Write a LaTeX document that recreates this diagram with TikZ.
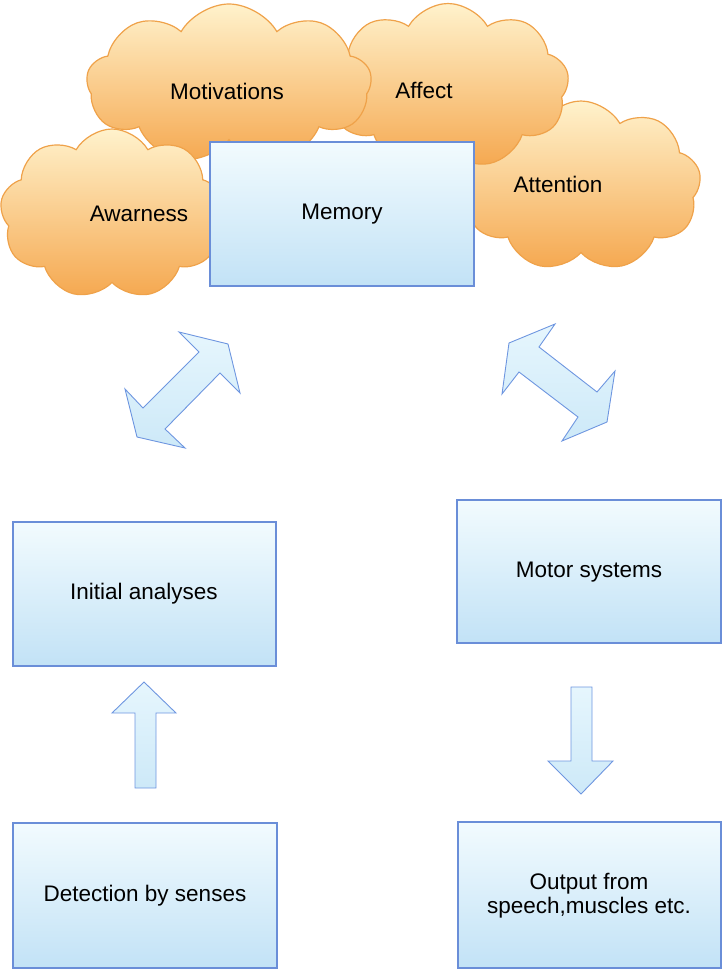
\documentclass[tikz,border=0pt]{standalone}
\usepackage{fontspec}
\setmainfont{Liberation Sans}
\usetikzlibrary{shapes.symbols}
\definecolor{boxline}{HTML}{6A8ED8}
\definecolor{boxtop}{HTML}{F2FBFE}
\definecolor{boxbot}{HTML}{C2E2F6}
\definecolor{cloudline}{HTML}{EFA24A}
\definecolor{cloudtop}{HTML}{FFF2CC}
\definecolor{cloudbot}{HTML}{F5A850}
\definecolor{arrline}{HTML}{6E96E0}
\definecolor{arrtop}{HTML}{E6F6FD}
\definecolor{arrbot}{HTML}{CDE9F8}
\tikzset{
  lbl/.style={font=\fontsize{22.5}{26}\selectfont, text=black, align=center, inner sep=0pt},
  bluebox/.style={draw=boxline, line width=1.3pt, top color=boxtop, bottom color=boxbot},
  puffy/.style={cloud, cloud puffs=9, cloud puff arc=120, aspect=1.6, inner sep=0pt,
    draw=cloudline, line width=1.2pt, top color=cloudtop, bottom color=cloudbot},
  blockarrow/.style={draw=arrline, line width=0.9pt, top color=arrtop, bottom color=arrbot, line join=miter}
}
\begin{document}
\begin{tikzpicture}[x=1pt, y=-1pt]
\useasboundingbox (0,0) rectangle (722,971);

% clouds, back to front
\node[puffy, minimum width=240pt, minimum height=170pt] (cAttention) at (581,186) {};
\node[puffy, minimum width=242pt, minimum height=165pt] (cAffect) at (448,86) {};
\node[puffy, minimum width=285pt, minimum height=160pt] (cMotiv) at (229,84) {};
\node[puffy, minimum width=224pt, minimum height=170pt] (cAware) at (112,214) {};

\node[lbl] (tMotiv) at (227,91) {Motivations};
\node[lbl] (tAffect) at (424,90) {Affect};
\node[lbl] (tAttention) at (558,184) {Attention};
\node[lbl] (tAware) at (139,214) {Awarness};

% memory box
\draw[bluebox] (210,142) rectangle (474,286);
\node[lbl] (memory) at (342,214) {Memory};

% boxes of the lower part
\draw[bluebox] (13,522) rectangle (276,666);
\node[lbl] (initial) at (144,594) {Initial analyses};
\draw[bluebox] (457,500) rectangle (721,643);
\node[lbl] (motor) at (589,572) {Motor systems};
\draw[bluebox] (13,823) rectangle (277,968);
\node[lbl] (detect) at (145,896) {Detection by senses};
\draw[bluebox] (458,822) rectangle (721,968);
\node[lbl] (output) at (589,896) {Output from\\[-2pt]speech,muscles etc.};

% two-headed block arrows
\draw[blockarrow] (179,332) -- (228,344) -- (240,393) -- (220,373) -- (165,429)
  -- (185,448) -- (137,437) -- (125,389) -- (143,408) -- (199,352) -- cycle;
\draw[blockarrow] (555,324) -- (509,343) -- (502,394) -- (519,372) -- (578,417)
  -- (562,441) -- (607,422) -- (615,371) -- (597,392) -- (539,347) -- cycle;

% single block arrows
\draw[blockarrow] (135,788) -- (135,713) -- (112,713) -- (144,682) -- (176,713)
  -- (156,713) -- (156,788) -- cycle;
\draw[blockarrow] (571,687) -- (592,687) -- (592,761) -- (613,761) -- (581,794)
  -- (548,761) -- (571,761) -- cycle;
\end{tikzpicture}
\end{document}
